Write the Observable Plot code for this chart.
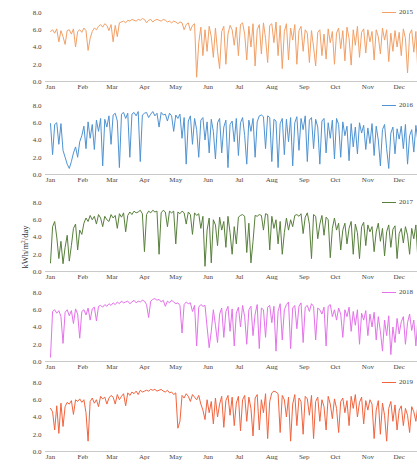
<!DOCTYPE html>
<html><head><meta charset="utf-8">
<script src="https://cdn.jsdelivr.net/npm/d3@7"></script>
<script src="https://cdn.jsdelivr.net/npm/@observablehq/plot@0.6"></script>
<style>
html,body{margin:0;padding:0;background:#fff;overflow:hidden;width:417px;height:465px}
#chart{position:relative;width:417px;height:465px;overflow:hidden}
.panel{position:absolute;left:0}
.legend{position:absolute;left:382px;font:7px 'Liberation Serif',serif;color:#444;display:flex;align-items:center;white-space:nowrap}
.legend span.sw{display:inline-block;width:14px;height:1px;margin-right:3px}
#ylabel{position:absolute;left:25px;top:247px;transform:translate(-50%,-50%) rotate(-90deg);font:8.5px 'Liberation Serif',serif;color:#333;white-space:nowrap}
</style></head>
<body><div id="chart"><div id="ylabel">kWh/m<sup style="font-size:5.5px">2</sup>/day</div></div>
<script>
const years = ["2015", "2016", "2017", "2018", "2019"];
const colors = ["#f2a066", "#4f93d2", "#587f3c", "#e472ea", "#f2643e"];
const monthStarts = [0, 31, 59, 90, 120, 151, 181, 212, 243, 273, 304, 334];
const monthLabels = ["Jan","Feb","Mar","Apr","May","Jun","Jul","Aug","Sep","Oct","Nov","Dec"];
const yTicks = [0, 2, 4, 6, 8];
// values sampled every 2 days, Jan 1 .. Dec 31
const s2015 = [
5.8,6.0,5.6,6.1,4.6,5.9,5.2,4.3,5.9,6.0,5.5,6.1,4.0,5.8,6.0,5.7,
6.2,5.9,3.6,5.0,5.8,6.2,6.0,6.4,6.6,6.3,6.7,6.5,5.9,6.6,
4.6,6.5,5.2,6.8,6.9,7.0,6.8,7.1,7.0,7.2,7.1,7.0,7.2,7.1,7.3,7.2,
6.8,7.1,7.2,6.9,7.1,7.2,7.1,7.0,7.2,7.1,6.9,7.0,6.8,7.0,6.9,
6.7,6.9,6.8,6.0,6.6,6.8,5.9,6.5,6.7,0.5,4.5,6.3,3.0,6.0,3.5,6.4,
5.2,2.8,6.2,3.5,1.5,5.8,6.4,2.0,5.5,6.5,6.0,4.2,6.3,3.0,6.6,
6.8,5.5,2.5,6.4,4.0,6.7,1.8,6.0,6.6,3.2,6.8,5.0,2.2,6.5,6.7,4.5,
6.9,3.0,6.5,1.5,5.8,6.7,2.5,6.2,4.8,6.6,2.0,5.9,6.4,3.5,6.0,
5.6,2.2,5.9,4.0,1.8,5.7,6.0,3.0,5.5,2.6,6.1,4.5,5.8,2.0,5.6,
6.2,3.8,5.9,2.4,6.3,5.0,1.9,6.0,4.2,6.4,2.8,5.7,6.1,3.3,6.0,4.6,
5.8,2.5,6.0,5.2,3.2,6.2,4.8,6.0,2.3,5.6,3.5,5.9,4.0,5.7,3.0,
6.1,5.0,1.0,5.5,6.0,3.4,5.8,0.8,4.6,3.2,5.4,2.6,4.8,3.1];
const s2016 = [
5.9,2.3,5.8,6.0,3.5,5.9,2.8,2.0,1.2,0.7,1.5,2.5,3.2,2.0,3.8,4.5,
5.6,3.0,6.1,4.2,5.8,2.9,6.3,5.0,6.5,1.0,6.4,5.5,6.8,3.5,
6.9,7.1,6.2,0.8,7.0,7.2,6.5,7.1,2.0,7.0,7.2,6.8,7.3,1.5,6.9,7.1,
7.2,6.6,7.0,7.3,6.8,7.1,5.5,7.2,6.9,7.0,6.2,7.1,6.8,5.0,6.9,
6.5,7.0,4.2,6.6,1.2,6.2,6.8,3.5,6.5,5.2,2.0,6.3,6.6,4.0,6.1,2.5,
6.4,5.0,1.8,6.0,6.5,2.5,5.5,6.3,0.8,5.8,6.2,3.8,6.5,2.2,6.0,
6.6,4.5,1.2,6.3,5.0,6.5,2.0,6.1,6.8,6.9,6.7,3.0,6.8,6.6,1.5,6.4,
6.2,0.8,5.9,6.5,2.3,6.4,3.8,6.6,1.0,6.0,6.7,2.8,6.5,5.2,6.8,
1.5,6.3,6.6,3.0,6.4,5.5,1.2,6.2,6.5,2.5,6.0,4.2,6.3,1.8,6.5,
5.8,2.0,6.1,4.5,5.6,1.6,5.9,3.2,5.5,2.4,6.0,4.8,5.7,2.9,5.4,3.6,
5.9,2.2,5.6,4.0,1.0,5.2,5.8,3.0,0.7,4.8,5.5,2.4,5.3,4.1,5.6,
3.0,5.8,1.2,4.5,5.2,2.6,5.7,3.8,1.5,5.0,4.2,5.6,2.8,4.9];
const s2017 = [
1.0,5.2,5.8,4.0,1.5,3.5,0.9,2.8,4.2,1.2,3.0,5.0,5.5,2.5,4.8,4.3,
5.6,6.2,5.8,6.5,6.0,6.4,5.5,6.6,6.2,5.2,6.4,6.0,5.8,6.6,
6.2,6.5,5.0,6.7,6.3,6.8,4.6,6.5,6.9,6.6,7.0,6.8,6.9,7.1,6.7,2.3,
6.6,7.0,6.8,7.1,6.9,7.0,2.0,6.8,7.1,6.9,5.2,7.0,6.8,7.0,3.2,
6.9,6.7,7.0,6.8,5.5,6.9,6.6,4.3,6.8,6.5,6.7,5.0,6.4,0.6,4.8,6.2,
1.0,6.0,5.4,3.0,6.3,4.8,5.8,2.8,6.4,4.5,2.0,5.2,3.2,6.3,6.5,
6.6,6.4,2.2,5.6,1.0,3.5,6.5,6.4,6.6,6.5,4.8,6.7,6.6,2.5,6.4,5.0,
6.0,3.2,5.8,2.0,4.5,6.2,4.8,6.0,5.2,6.5,6.6,6.4,6.7,4.4,6.3,
6.8,5.5,1.5,6.6,6.4,3.8,5.5,6.5,4.2,6.3,6.0,1.6,5.0,6.2,4.8,
5.6,2.5,4.8,5.6,3.2,5.0,5.8,2.0,5.5,4.5,1.5,5.2,5.7,3.0,5.4,4.6,
5.2,2.3,4.6,5.6,3.5,5.0,1.8,4.6,5.4,2.8,4.9,5.3,1.5,4.4,5.0,
3.3,5.2,4.2,2.0,5.0,3.8,5.4,1.2,4.5,5.0,2.6,4.8,3.5,4.6];
const s2018 = [
0.5,5.8,6.0,5.6,5.9,5.2,2.1,5.7,6.0,5.3,5.9,4.4,6.1,5.5,2.7,5.8,
6.0,5.4,6.2,4.8,6.1,6.3,4.7,6.4,6.5,6.3,6.6,6.4,6.7,6.5,
6.8,6.6,6.9,6.7,7.0,6.8,6.9,7.0,6.7,6.9,7.1,6.8,7.0,6.9,7.1,7.0,
6.6,5.1,7.0,7.2,7.3,7.1,7.2,6.9,7.1,6.4,7.0,6.8,7.1,6.9,6.7,
6.8,6.5,3.3,6.6,6.9,6.7,6.8,5.8,6.5,1.8,6.3,6.6,6.4,6.5,4.0,1.6,
3.5,6.0,4.2,2.2,5.5,6.2,2.8,5.8,6.4,3.5,6.1,1.8,5.6,6.3,4.0,
6.5,5.2,2.0,6.0,6.4,3.0,5.5,6.6,1.5,6.2,6.0,2.8,6.3,6.5,4.5,6.4,
1.2,5.8,6.7,2.5,6.0,6.6,6.9,1.5,6.2,6.5,3.8,6.4,6.8,2.2,6.3,
6.5,5.8,6.7,6.4,2.5,6.2,6.0,5.5,6.3,1.8,6.4,6.6,5.2,6.0,4.8,
6.2,5.5,2.8,6.0,5.2,6.3,3.5,5.8,4.2,6.0,2.0,5.6,4.8,5.9,3.0,5.5,
4.0,5.7,2.5,5.2,3.5,1.2,4.8,3.0,5.3,0.8,4.0,2.2,5.0,3.2,4.6,
5.2,2.0,4.5,5.5,3.6,4.8,1.8,5.0,4.2,5.4,4.8,5.6,5.2,6.0];
const s2019 = [
5.0,4.6,2.5,5.3,2.1,5.6,2.9,5.2,5.7,5.5,5.9,4.3,6.0,5.8,6.1,5.7,
6.0,4.5,1.2,5.8,6.2,5.6,6.0,5.2,6.4,6.1,6.3,5.5,6.2,6.5,
6.3,5.5,6.6,6.0,6.4,6.7,5.3,6.8,6.5,6.9,6.7,7.0,6.6,7.1,6.9,7.0,
7.1,7.0,7.2,7.1,7.2,7.0,7.1,7.2,7.0,6.9,7.1,6.8,6.9,6.6,6.8,
2.7,3.5,6.5,6.2,6.7,6.4,5.8,6.6,6.3,6.0,6.5,5.5,4.8,3.7,6.0,4.5,
5.8,3.2,6.2,4.0,5.5,6.4,2.8,5.9,6.5,4.2,6.3,3.0,5.6,6.4,2.4,
6.0,6.5,3.5,6.3,5.0,1.8,6.2,6.6,2.5,6.0,4.5,6.7,1.5,5.8,6.8,7.0,
6.9,6.7,2.2,6.5,6.0,4.0,6.3,1.2,5.5,6.6,3.0,6.2,5.8,2.0,6.4,
6.1,4.2,6.5,1.5,5.8,6.3,3.5,6.0,5.2,2.5,6.4,5.5,3.8,6.1,5.0,
2.2,5.8,6.2,4.5,5.9,3.0,6.4,5.0,6.6,4.0,5.7,6.3,3.2,5.9,4.8,6.0,
5.5,1.5,4.8,5.9,2.0,5.6,4.2,1.2,5.0,5.8,3.5,5.4,2.5,4.8,5.3,
3.0,5.0,4.2,2.2,5.2,4.6,3.5,5.4,2.8,4.9,5.6,4.2,5.8,4.5];

const series = [s2015, s2016, s2017, s2018, s2019];
const panelTop8 = [12, 105, 202, 292, 382];   // pixel row of the 8.0 tick per panel
const mt = 6, mb = 14, ph = 69;

const chart = document.getElementById("chart");
series.forEach((vals, k) => {
  const data = vals.map((v, i) => ({day: i * 2, v}));
  const p = Plot.plot({
    width: 417,
    height: mt + ph + mb,
    marginTop: mt, marginBottom: mb, marginLeft: 45, marginRight: 0,
    style: {fontFamily: "'Liberation Serif', serif", fontSize: "7px", color: "#444", background: "transparent", overflow: "visible"},
    x: {type: "linear", domain: [0, 364], range: [50, 430], ticks: monthStarts,
        tickFormat: d => monthLabels[monthStarts.indexOf(d)], tickSize: 0, tickPadding: 3, label: null},
    y: {domain: [0, 8], ticks: yTicks, tickFormat: d3.format(".1f"), tickSize: 0, tickPadding: 4, label: null},
    marks: [
      Plot.ruleY([0], {stroke: "#bbb", strokeWidth: 0.8}),
      Plot.line(data, {x: "day", y: "v", stroke: colors[k], strokeWidth: 1})
    ]
  });
  p.classList.add("panel");
  p.style.top = (panelTop8[k] - mt) + "px";
  chart.appendChild(p);
  const lg = document.createElement("div");
  lg.className = "legend";
  lg.style.top = (panelTop8[k] - 4) + "px";
  lg.innerHTML = `<span class="sw" style="background:${colors[k]}"></span>${years[k]}`;
  chart.appendChild(lg);
});
</script>
</body></html>
